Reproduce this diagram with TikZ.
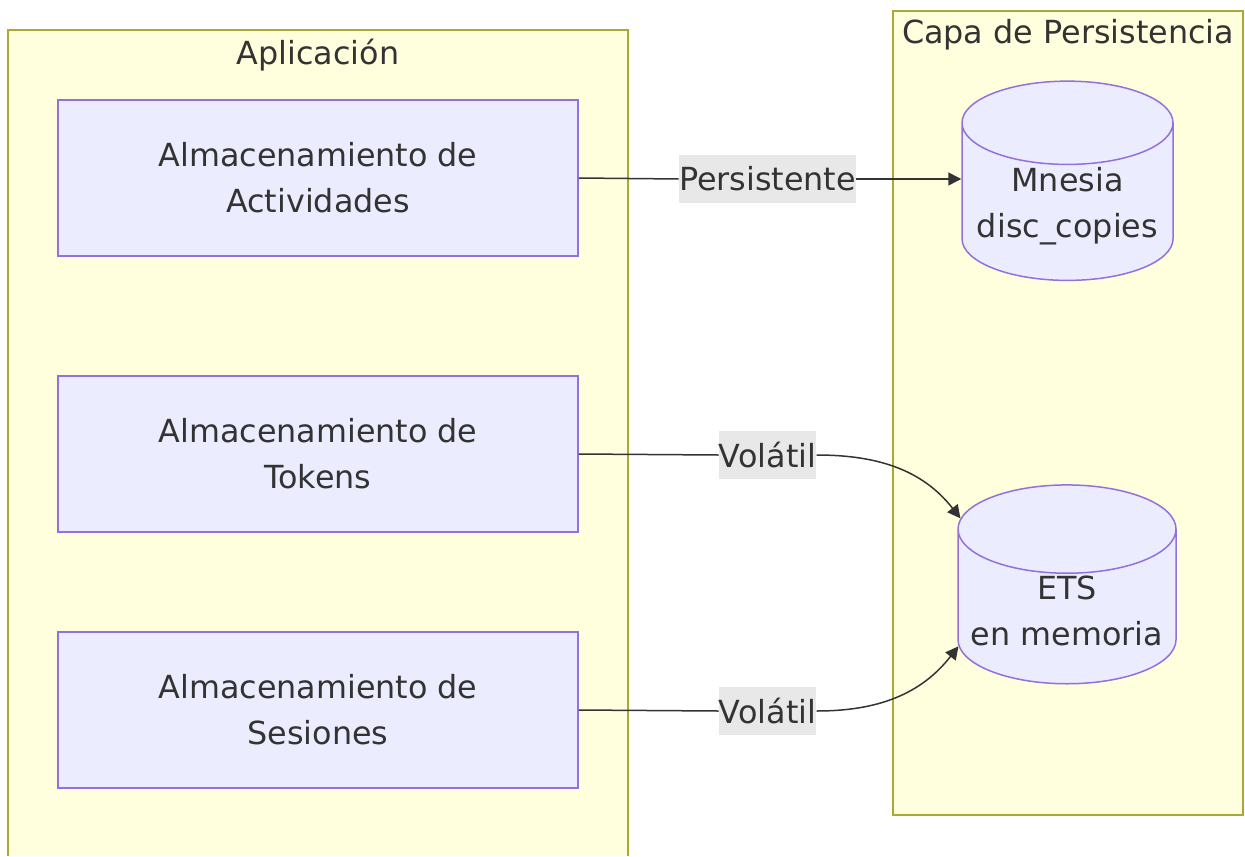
\documentclass[tikz,border=0pt]{standalone}
\usepackage{fontspec}
\setmainfont{DejaVu Sans}
\usetikzlibrary{shapes.geometric,arrows.meta}
\definecolor{grupofondo}{HTML}{FFFFDE}
\definecolor{grupoborde}{HTML}{AAAA33}
\definecolor{nodofondo}{HTML}{ECECFF}
\definecolor{nodoborde}{HTML}{9370DB}
\definecolor{texto}{HTML}{333333}
\definecolor{etiqueta}{HTML}{E8E8E8}
\tikzset{
  letra/.style={text=texto, font=\fontsize{15.9}{23}\selectfont},
  grupo/.style={fill=grupofondo, draw=grupoborde, line width=1pt},
  almacen/.style={letra, draw=nodoborde, fill=nodofondo, line width=0.75pt,
    minimum width=260pt, minimum height=78pt, align=center},
  basedatos/.style={letra, cylinder, shape border rotate=90, aspect=0.45,
    draw=nodoborde, fill=nodofondo, line width=0.75pt, align=center,
    inner sep=1pt, minimum width=105.5pt, minimum height=97.5pt},
  etiq/.style={letra, fill=etiqueta, inner xsep=0pt, inner ysep=0pt, minimum height=24pt},
  linea/.style={draw=texto, line width=0.75pt},
  flecha/.style={linea, -{Triangle[length=6.5pt,width=6.5pt]}}
}
\begin{document}
\begin{tikzpicture}[x=0.5pt,y=-0.5pt]
\useasboundingbox (0,0) rectangle (1245,856);

\fill[grupofondo] (8,30) rectangle (628,856);
\draw[grupoborde, line width=1pt] (8,856) -- (8,30) -- (628,30) -- (628,856);
\node[letra, anchor=base] (tituloapp) at (318,65) {Aplicación};

\draw[grupo] (893,11) rectangle (1243,815);
\node[letra, anchor=base] (titulopers) at (1068,44) {Capa de Persistencia};

\node[almacen] (actividades) at (318,178) {Almacenamiento de\\Actividades};
\node[almacen] (tokens) at (318,454) {Almacenamiento de\\Tokens};
\node[almacen] (sesiones) at (318,710) {Almacenamiento de\\Sesiones};

\node[basedatos] (mnesia) at (1067.5,206) {Mnesia\\disc\_copies};
\node[basedatos, minimum width=109pt] (ets) at (1067,611) {ETS\\en memoria};

\node[etiq] (persist) at (767.5,179) {Persistente};
\node[etiq] (volatil1) at (767.5,455) {Volátil};
\node[etiq] (volatil2) at (767.5,711) {Volátil};

\draw[linea] (actividades.east) -- (persist.west);
\draw[flecha] (persist.east) -- (persist.east -| mnesia.west);

\draw[linea] (tokens.east) -- (volatil1.west);
\draw[flecha] (volatil1.east) to[out=0, in=128] (ets.139);
\draw[linea] (sesiones.east) -- (volatil2.west);
\draw[flecha] (volatil2.east) to[out=0, in=-128] (ets.198);

\end{tikzpicture}
\end{document}
